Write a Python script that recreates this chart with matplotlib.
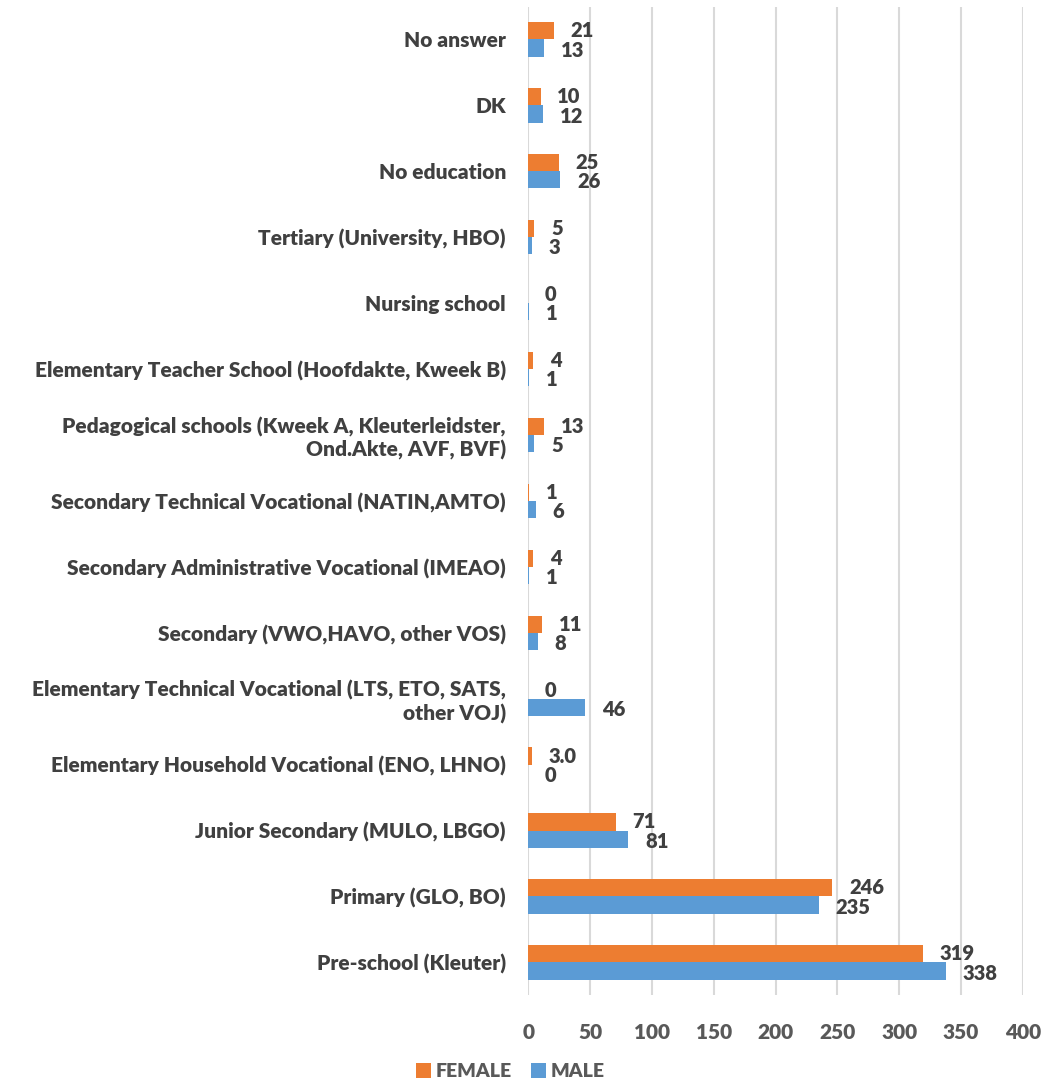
import matplotlib.pyplot as plt
import numpy as np

categories = [
    "Pre-school (Kleuter)",
    "Primary (GLO, BO)",
    "Junior Secondary (MULO, LBGO)",
    "Elementary Household Vocational (ENO, LHNO)",
    "Elementary Technical Vocational (LTS, ETO, SATS,\nother VOJ)",
    "Secondary (VWO,HAVO, other VOS)",
    "Secondary Administrative Vocational (IMEAO)",
    "Secondary Technical Vocational (NATIN,AMTO)",
    "Pedagogical schools (Kweek A, Kleuterleidster,\nOnd.Akte, AVF, BVF)",
    "Elementary Teacher School (Hoofdakte, Kweek B)",
    "Nursing school",
    "Tertiary (University, HBO)",
    "No education",
    "DK",
    "No answer",
]
female = [319, 246, 71, 3.0, 0, 11, 4, 1, 13, 4, 0, 5, 25, 10, 21]
male = [338, 235, 81, 0, 46, 8, 1, 6, 5, 1, 1, 3, 26, 12, 13]
xticks = [0, 50, 100, 150, 200, 250, 300, 350, 400]

ORANGE = '#ED7D31'
BLUE = '#5B9BD5'
TXT = '#404040'
FS = 15
W = 'heavy'

plt.rcParams['font.family'] = ['Lato', 'DejaVu Sans']
plt.rcParams['font.weight'] = W

fig = plt.figure(figsize=(10.48, 10.89), dpi=100)
ax = fig.add_axes([0.504, 0.086, 0.472, 0.908])

y = np.arange(len(categories))
h = 0.26
ax.barh(y + h/2, female, height=h, color=ORANGE, label='FEMALE', zorder=3)
ax.barh(y - h/2, male, height=h, color=BLUE, label='MALE', zorder=3)

def lab(v):
    return f"{v:.1f}" if isinstance(v, float) else str(v)

for yi, f, m in zip(y, female, male):
    ax.annotate(lab(f), (f, yi + h/2), xytext=(12, 0), textcoords='offset points',
                ha='left', va='center', fontsize=14.5, fontweight=W, color=TXT)
    ax.annotate(lab(m), (m, yi - h/2), xytext=(12, -1.5), textcoords='offset points',
                ha='left', va='center', fontsize=14.5, fontweight=W, color=TXT)

ax.set_xlim(0, 400)
ax.set_ylim(-0.5, len(categories) - 0.5)
ax.set_xticks(xticks)
ax.set_yticks(y)
ax.set_yticklabels(categories, fontsize=FS, fontweight=W, color=TXT)
ax.tick_params(axis='x', labelsize=15, colors='#595959', length=0, pad=20)
ax.tick_params(axis='y', length=0, pad=16)
for lbl in ax.get_xticklabels():
    lbl.set_fontweight(W)
for s in ax.spines.values():
    s.set_visible(False)
ax.grid(axis='x', color='#D9D9D9', linewidth=1.5, zorder=0)

handles, labels = ax.get_legend_handles_labels()
fig.legend(handles, labels, loc='lower center', bbox_to_anchor=(0.487, -0.008), ncol=2,
           frameon=False, handlelength=0.75, handleheight=0.75,
           handletextpad=0.25, columnspacing=1.0, labelcolor='#595959',
           prop={'weight': W, 'size': 14})

fig.savefig('out.png', dpi=100)
